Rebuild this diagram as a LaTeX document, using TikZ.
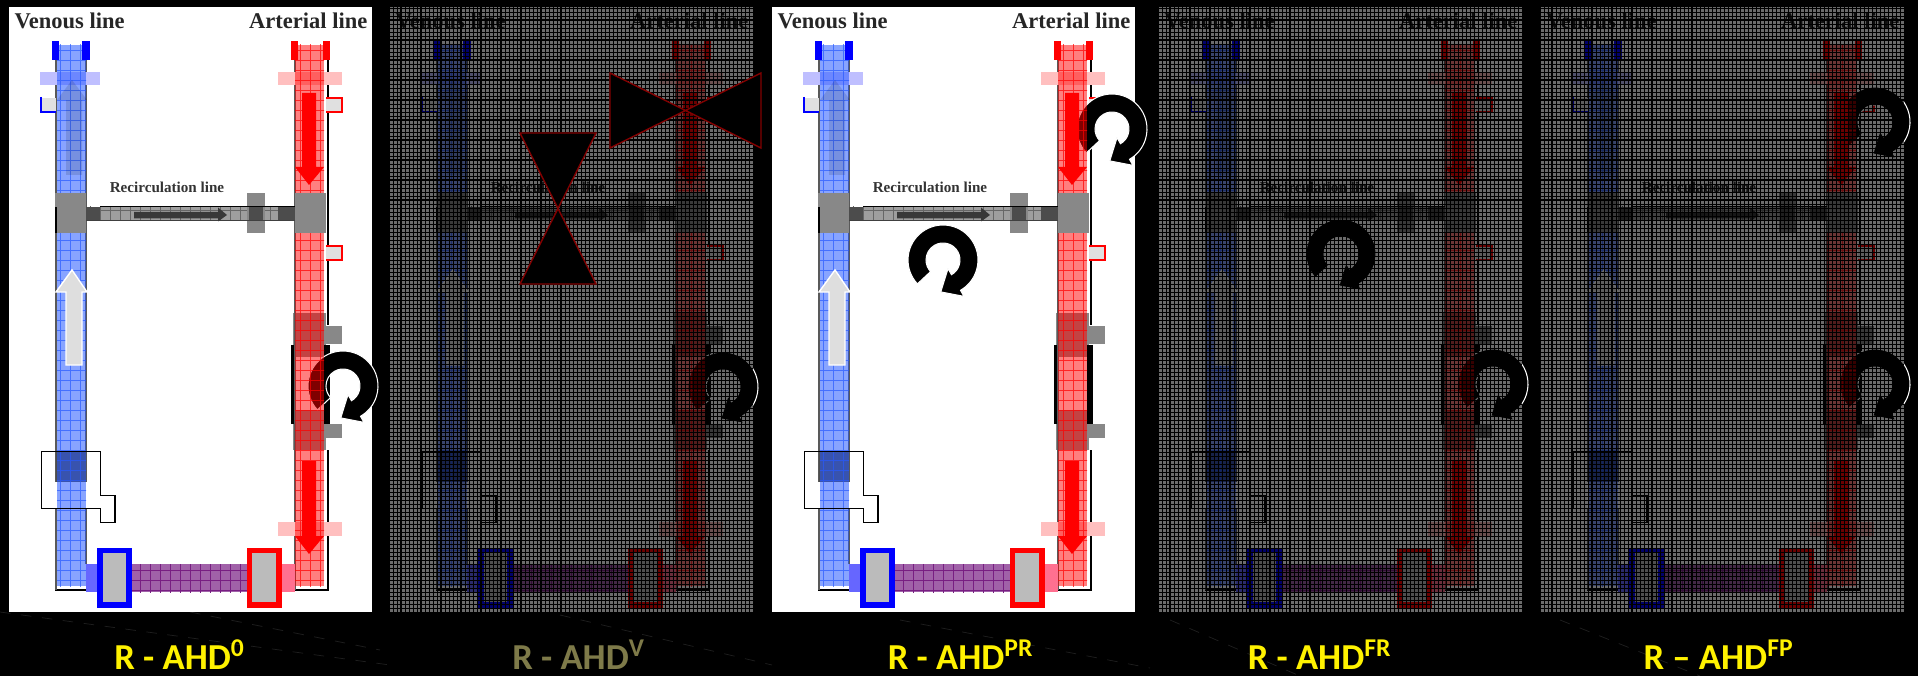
\documentclass[tikz,border=0pt]{standalone}
\usepackage{fontspec}
\setmainfont{Liberation Serif}
\newfontfamily\capfont{Carlito}
\usepackage{tikz}
\usetikzlibrary{arrows.meta,positioning,calc}

\definecolor{tubeblue}{RGB}{40,90,255}
\definecolor{clampgray}{RGB}{136,136,136}
\definecolor{boxgray}{RGB}{187,187,187}
\definecolor{valvered}{RGB}{130,0,0}
\definecolor{plumline}{RGB}{120,30,130}
\definecolor{pinkend}{RGB}{255,112,144}

\tikzset{
  wall/.style={line width=0.55pt,black},
  softwall/.style={line width=0.45pt,black!65},
  label/.style={font=\bfseries\fontsize{6.4}{7}\selectfont,text=black!85,inner sep=0pt},
  reclabel/.style={font=\bfseries\fontsize{4.3}{5}\selectfont,text=black!80,inner sep=0pt},
  caption/.style={font=\capfont\bfseries\fontsize{10.4}{12}\selectfont,text=yellow,inner sep=0pt,anchor=base},
  spin/.style={fill=black,draw=white,line width=0.3pt},
  valve/.style={fill=black,draw=valvered,line width=0.4pt},
  filter/.style={fill=boxgray,line width=1.5pt},
}

% one panel, #1 = offset, #2 = what lies under the tubes
\newcommand{\circuit}[2]{
\begin{scope}[shift={(#1,0)}]
\fill[white] (9,7) rectangle (372,612);
\node[label,anchor=west] (venous#1) at (14,21) {Venous line};
\node[label,anchor=east] (arterial#1) at (368,21) {Arterial line};
\node[reclabel] (recirc#1) at (167,187) {Recirculation line};
% side blocks of the pump
\fill[clampgray] (293,313) rectangle (326,357);
\fill[clampgray] (293,410) rectangle (326,450);
\fill[clampgray] (324,326) rectangle (342,344);
\fill[clampgray] (324,424) rectangle (342,438);
\fill[black] (291,345) rectangle (295,424);
\fill[black] (324,345) rectangle (330,424);
% wall lines
\draw[wall] (328,60) -- (328,325);
\draw[wall] (328,450) -- (328,590) -- (280,590);
\draw[wall] (55,590) -- (99,590);
\draw[softwall] (56,60) -- (56,482);
\draw[softwall] (56,508) -- (56,590);
\draw[softwall] (86,60) -- (86,482);
\draw[softwall] (86,508) -- (86,564);
\draw[softwall] (295,60) -- (295,590);
% clamps across the lines
\fill[blue!25] (40,72) rectangle (100,85);
\fill[red!25] (278,72) rectangle (342,85);
\fill[red!25] (278,522) rectangle (342,536);
% pressure boxes
\fill[black!12] (41,98) rectangle (56,112);
\draw[blue,line width=0.4pt] (41,97) -- (41,112) -- (56,112);
\fill[black!12] (326,98) rectangle (342,112);
\draw[red,line width=0.3pt] (326,98) -| (342,112) -- (326,112);
\fill[black!12] (326,246) rectangle (342,260);
\draw[red,line width=0.3pt] (326,246) -| (342,260) -- (326,260);
% chamber
\fill[black!70] (56,451) rectangle (86,482);
#2
% tubes
\fill[tubeblue,opacity=.55] (57,45) rectangle (86,586);
\fill[red,opacity=.5] (295,45) rectangle (324,586);
\begin{scope}
\clip (57,45) rectangle (86,586);
\draw[tubeblue,opacity=.7,line width=0.2pt,step=1mm] (50,40) grid (90,590);
\end{scope}
\begin{scope}
\clip (295,45) rectangle (324,586);
\draw[red,opacity=.7,line width=0.2pt,step=1mm] (290,40) grid (330,590);
\end{scope}
% top fittings
\fill[blue] (52,41) rectangle (59,60);
\fill[blue] (82,41) rectangle (90,60);
\fill[red] (291,41) rectangle (298,60);
\fill[red] (323,41) rectangle (330,60);
\draw[black,line width=0.25pt] (41,451) -- (100,451) -- (100,495) -- (115,495) -- (115,522) -- (100,522) -- (100,508) -- (41,508) -- cycle;
\draw[black,line width=0.45pt] (115,495) -- (115,522);
% faint arrow inside venous line
\fill[black,opacity=.12] (66,175) -- (66,100) -- (57,100) -- (72,80) -- (87,100) -- (82,100) -- (82,175) -- cycle;
% flow arrows
\draw[white,fill=black!13,line width=0.4pt] (66,365) -- (66,292) -- (56,292) -- (72,270) -- (87,292) -- (82,292) -- (82,365) -- cycle;
\fill[red] (302,93) -- (316,93) -- (316,167) -- (324,167) -- (309,185) -- (295,167) -- (302,167) -- cycle;
\fill[red] (302,461) -- (316,461) -- (316,536) -- (324,536) -- (309,554) -- (295,536) -- (302,536) -- cycle;
% recirculation line
\fill[black!38] (86,207) rectangle (295,221);
\begin{scope}
\clip (86,207) rectangle (295,221);
\draw[black!60,line width=0.25pt,step=1mm] (80,200) grid (300,225);
\end{scope}
\fill[clampgray] (247,193) rectangle (265,233);
\fill[black!70] (86,207) rectangle (100,221);
\fill[black!70] (278,207) rectangle (295,221);
\fill[black!70] (249,207) rectangle (263,221);
\draw[black,line width=0.3pt] (100,206.5) -- (295,206.5);
\draw[black!75,line width=0.4pt] (83,220.5) -- (295,220.5);
\fill[black!78] (134,212) -- (218,212) -- (218,207.5) -- (227,215) -- (218,221.5) -- (218,218.5) -- (134,218.5) -- cycle;
% junctions
\fill[clampgray] (55,193) rectangle (86,233);
\fill[clampgray] (295,193) rectangle (326,233);
\fill[black] (55,207) rectangle (57,233);
% blood line below
\fill[blue!60] (86,564) rectangle (98,592);
\fill[pinkend] (281,564) rectangle (295,592);
\fill[plumline!70] (131,564) rectangle (247,592);
\begin{scope}
\clip (131,564) rectangle (247,592);
\draw[plumline,line width=0.22pt,step=1mm] (125,560) grid (250,595);
\end{scope}
\draw[filter,draw=blue] (100,550.5) rectangle (129,605);
\draw[filter,draw=red] (249.5,550.5) rectangle (279,605);
\end{scope}
}

% darkening screen over a panel
\newcommand{\dimpanel}[1]{
\begin{scope}[shift={(#1,0)}]
\fill[black,opacity=.58] (9,7) rectangle (372,612);
\draw[black,line width=0.26pt,step=0.4mm] (9,7) grid (372,612);
\draw[black,line width=0.35pt,step=2mm] (9,7) grid (372,612);
\end{scope}
}

\newcommand{\spinarrow}[2]{
\begin{scope}[shift={(#1,#2)}]
\filldraw[spin] (137:35) arc[start angle=137,end angle=420,radius=35] -- (60:42) -- (94:32) -- (60:10) -- (60:17) arc[start angle=60,end angle=-223,radius=17] -- cycle;
\end{scope}
}

\begin{document}
\begin{tikzpicture}[x=0.01cm,y=-0.01cm]
\useasboundingbox (0,0) rectangle (1918,676);
\fill[black] (0,0) rectangle (1918,676);
% stray lines on the black ground
\foreach \xa/\ya/\xb/\yb in {0/612/390/665,190/612/380/650,560/615/772/665,900/620/1150/668,1170/620/1300/676,1560/620/1700/676}
  \draw[black!60!white,opacity=.3,line width=0.2pt,dashed] (\xa,\ya) -- (\xb,\yb);

\circuit{0}{\spinarrow{343}{386}}
\circuit{381}{\spinarrow{342}{387}}
\circuit{763}{\spinarrow{349}{129}\spinarrow{180}{260}}
\circuit{1150}{\spinarrow{191}{254}\spinarrow{343}{384}}
\circuit{1532}{\spinarrow{343}{122}\spinarrow{343}{384}}
\dimpanel{381}
\dimpanel{1150}
\dimpanel{1532}

% valves of the second panel
\draw[valve] (520,133) -- (596,133) -- (520,284) -- (596,284) -- cycle;
\draw[valve] (610,73) -- (761,148) -- (761,73) -- (610,148) -- cycle;

\node[caption] (cap0) at (180,669) {R - AHD\textsuperscript{0}};
\node[caption,text=yellow!42!black] (capv) at (579,669) {R - AHD\textsuperscript{V}};
\node[caption] (cappr) at (961,669) {R - AHD\textsuperscript{PR}};
\node[caption] (capfr) at (1320,669) {R - AHD\textsuperscript{FR}};
\node[caption] (capfp) at (1719,669) {R – AHD\textsuperscript{FP}};
\end{tikzpicture}
\end{document}
